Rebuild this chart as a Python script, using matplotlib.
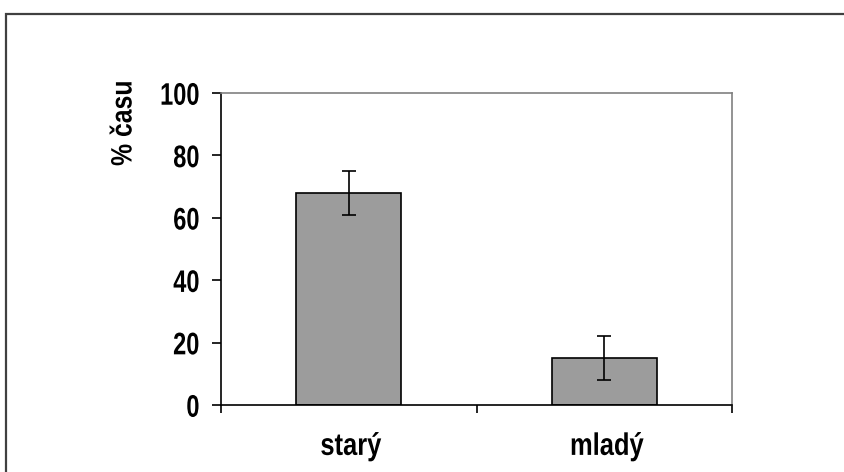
import matplotlib
matplotlib.use("Agg")
import matplotlib.pyplot as plt
from matplotlib.patches import Rectangle
from matplotlib.ticker import FixedLocator
from matplotlib.patheffects import AbstractPathEffect
from matplotlib.transforms import Affine2D

categories = ["starý", "mladý"]
values = [68, 15]
errors = [7, 7]
yticks = [0, 20, 40, 60, 80, 100]


class Stretch(AbstractPathEffect):
    """Stretch glyphs in their own frame about the middle of the cap height."""
    def __init__(self, sy=1.3, sx=1.0, y0=36.0):
        super().__init__()
        self.sy = sy
        self.sx = sx
        self.y0 = y0

    def draw_path(self, renderer, gc, tpath, affine, rgbFace=None):
        t = Affine2D().translate(0, -self.y0).scale(self.sx, self.sy).translate(0, self.y0)
        renderer.draw_path(gc, tpath, t + affine, rgbFace)


plt.rcParams['font.family'] = ['Liberation Sans', 'DejaVu Sans']
plt.rcParams['font.weight'] = 'bold'

fig = plt.figure(figsize=(8.44, 4.72), dpi=100)
fig.patch.set_facecolor('white')
# outer frame
fig.patches.append(Rectangle((6/844, -0.05), 1.2, (472-14)/472 + 0.05, transform=fig.transFigure,
                             fill=False, edgecolor='#404040', linewidth=1.6))

ax = fig.add_axes([221/844, (472-405)/472, 511/844, 312/472])
x = list(range(len(categories)))
ax.bar(x, values, width=0.41, color='#9c9c9c', edgecolor='black', linewidth=1.2, zorder=2)
ax.errorbar(x, values, yerr=errors, fmt='none', ecolor='black', elinewidth=1.2, capsize=4.7,
            capthick=1.2, zorder=3)

ax.set_xlim(-0.5, 1.5)
ax.set_ylim(0, 100)
ax.set_yticks(yticks)
ax.set_yticklabels([str(t) for t in yticks], fontsize=17, fontweight='bold')
ax.set_xticks(x)
ax.set_xticklabels(categories, fontsize=17, fontweight='bold')
ax.xaxis.set_minor_locator(FixedLocator([-0.5, 0.5, 1.5]))
ax.tick_params(axis='x', which='major', length=0, pad=21)
ax.tick_params(axis='x', which='minor', length=6, width=1.2, direction='out')
ax.tick_params(axis='y', length=6.5, width=1.2, direction='out', pad=9)

for lab in ax.get_yticklabels():
    lab.set_path_effects([Stretch(1.32, 1.0)])
for lab in ax.get_xticklabels():
    lab.set_path_effects([Stretch(1.32, 1.08)])

for s in ['left', 'bottom']:
    ax.spines[s].set_color('black')
    ax.spines[s].set_linewidth(1.2)
for s in ['top', 'right']:
    ax.spines[s].set_color('#808080')
    ax.spines[s].set_linewidth(1.2)

ax.set_ylabel("% času", fontsize=17, fontweight='bold')
ax.yaxis.label.set_path_effects([Stretch(1.25, 1.05)])
ax.yaxis.label.set_verticalalignment('center')
ax.yaxis.set_label_coords(-0.192, 0.897)

fig.savefig("out.png", dpi=100)
